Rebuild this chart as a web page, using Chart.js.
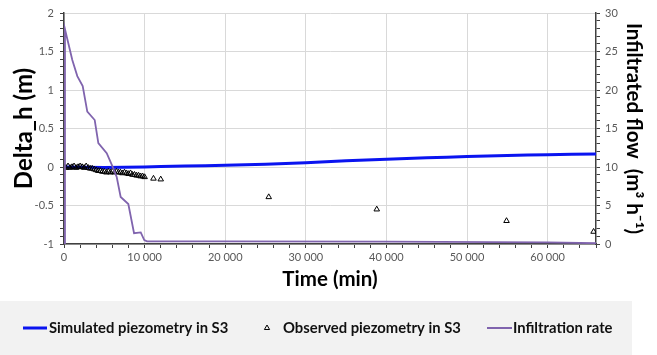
<!DOCTYPE html>
<html>
<head>
<meta charset="utf-8">
<script src="https://cdn.jsdelivr.net/npm/chart.js@4"></script>
<style>
  html, body { margin: 0; padding: 0; background: #ffffff; }
  #wrap { width: 657px; height: 355px; position: relative; }
</style>
</head>
<body>
<div id="wrap"><canvas id="c" width="657" height="355"></canvas></div>
<script>
// ---------- DATA ----------
const simTime  = [0, 5000, 10000, 12000, 15000, 20000, 25000, 30000, 35000, 40000, 45000, 50000, 55000, 60000, 66000];
const simDelta = [0, -0.005, 0, 0.005, 0.012, 0.022, 0.035, 0.055, 0.08, 0.10, 0.12, 0.135, 0.15, 0.16, 0.17];

const obsTime  = [0, 250, 500, 750, 1000, 1250, 1500, 1750, 2000, 2250, 2500, 2750, 3000, 3250, 3500, 3750,
                  4000, 4250, 4500, 4750, 5000, 5250, 5500, 5750, 6000, 6250, 6500, 6750, 7000, 7250, 7500,
                  7750, 8000, 8250, 8500, 8750, 9000, 9250, 9500, 9750, 10000, 11100, 12000, 25400, 38800, 54900, 65700];
const obsDelta = [0.0, -0.01, 0.01, -0.01, 0.0, 0.01, -0.01, 0.0, 0.01, 0.0, -0.01, 0.01, -0.01, -0.02, -0.02, -0.03,
                  -0.04, -0.05, -0.05, -0.06, -0.06, -0.07, -0.06, -0.07, -0.06, -0.07, -0.06, -0.07, -0.07, -0.08, -0.07,
                  -0.08, -0.09, -0.08, -0.10, -0.10, -0.11, -0.11, -0.12, -0.12, -0.13, -0.15, -0.16, -0.39, -0.55, -0.70, -0.84];

const infTime  = [0, 120, 1030, 1650, 2320, 2890, 3810, 4260, 5300, 5920, 6540, 7030, 7980, 8690, 9520, 9960, 10300, 20000, 40000, 60000, 66000];
const infRate  = [0, 27.9, 23.9, 21.8, 20.5, 17.2, 16.1, 13.1, 11.8, 10.3, 8.7, 6.1, 5.2, 1.4, 1.5, 0.5, 0.35, 0.35, 0.3, 0.2, 0.1];

const xTickLabels = ['0', '10\u202F000', '20\u202F000', '30\u202F000', '40\u202F000', '50\u202F000', '60\u202F000'];
const yTickLabels = ['-1', '-0.5', '0', '0.5', '1', '1.5', '2'];
const y2TickLabels = ['0', '5', '10', '15', '20', '25', '30'];

const seriesNames = ['Simulated piezometry in S3', 'Observed piezometry in S3', 'Infiltration rate'];

// ---------- STYLE ----------
const BLUE = '#0a14f0';
const PURPLE = '#8064ae';
const GRID = '#d9d9d9';
const AXIS = '#404040';
const TICKTXT = '#595959';
const FONT = 'Lato, "Open Sans", sans-serif';

const toXY = (xs, ys) => xs.map((x, i) => ({ x: x, y: ys[i] }));

function majorGrid(ctx) { return (ctx.index % 5 === 0) ? GRID : 'rgba(0,0,0,0)'; }

const legendPlugin = {
  id: 'customLegend',
  afterDraw(chart) {
    const ctx = chart.ctx;
    const y = 328;
    ctx.save();
    ctx.fillStyle = '#f2f2f2';
    ctx.fillRect(0, 301, 632, 54);
    ctx.font = 'bold 14.8px ' + FONT;
    ctx.textBaseline = 'middle';
    ctx.textAlign = 'left';
    // item 1
    ctx.strokeStyle = BLUE; ctx.lineWidth = 3;
    ctx.beginPath(); ctx.moveTo(23, y); ctx.lineTo(47, y); ctx.stroke();
    ctx.fillStyle = '#111111';
    ctx.fillText(seriesNames[0], 49, y);
    // item 2
    ctx.strokeStyle = '#000000'; ctx.lineWidth = 1;
    ctx.fillStyle = 'rgba(255,255,255,0)';
    Chart.helpers.drawPoint(ctx, { pointStyle: 'triangle', radius: 3, borderWidth: 1, rotation: 0 }, 267, y);
    ctx.fillStyle = '#111111';
    ctx.fillText(seriesNames[1], 283, y);
    // item 3
    ctx.strokeStyle = PURPLE; ctx.lineWidth = 2;
    ctx.beginPath(); ctx.moveTo(487, y); ctx.lineTo(512, y); ctx.stroke();
    ctx.fillStyle = '#111111';
    ctx.fillText(seriesNames[2], 513, y);
    ctx.restore();
  }
};

new Chart(document.getElementById('c'), {
  type: 'scatter',
  data: {
    datasets: [
      {
        label: seriesNames[0], data: toXY(simTime, simDelta), showLine: true,
        borderColor: BLUE, borderWidth: 3, pointRadius: 0, tension: 0.3, yAxisID: 'y', order: 2
      },
      {
        label: seriesNames[1], data: toXY(obsTime, obsDelta), showLine: false,
        pointStyle: 'triangle', pointRadius: 3.2, borderColor: '#000000', borderWidth: 1,
        backgroundColor: 'rgba(255,255,255,0)', yAxisID: 'y', order: 1
      },
      {
        label: seriesNames[2], data: toXY(infTime, infRate), showLine: true,
        borderColor: PURPLE, borderWidth: 1.8, pointRadius: 0, tension: 0, yAxisID: 'y2', order: 0
      }
    ]
  },
  options: {
    responsive: false,
    animation: false,
    devicePixelRatio: 1,
    layout: { padding: { top: 13, bottom: 55, left: 0, right: 0 } },
    plugins: { legend: { display: false }, tooltip: { enabled: false } },
    scales: {
      x: {
        type: 'linear', min: 0, max: 66000,
        afterBuildTicks: (s) => { const t = []; for (let i = 0; i <= 33; i++) t.push({ value: i * 2000 }); s.ticks = t; },
        afterFit: (s) => { s.height = 56; },
        ticks: {
          autoSkip: false, maxRotation: 0, padding: 3,
          color: TICKTXT, font: { family: FONT, size: 11 },
          callback: (v, i) => (i % 5 === 0 ? xTickLabels[i / 5] : '')
        },
        grid: { color: majorGrid, tickColor: AXIS, tickLength: 4, lineWidth: 1 },
        border: { color: AXIS, width: 1.5 },
        title: {
          display: true, text: 'Time (min)', color: '#000',
          font: { family: FONT, size: 20.5, weight: 'bold' }, padding: { top: 6, bottom: 8 }
        }
      },
      y: {
        type: 'linear', position: 'left', min: -1, max: 2,
        afterBuildTicks: (s) => { const t = []; for (let i = 0; i <= 30; i++) t.push({ value: -1 + i / 10 }); s.ticks = t; },
        afterFit: (s) => { s.width = 64; },
        ticks: {
          autoSkip: false, padding: 6,
          color: TICKTXT, font: { family: FONT, size: 11 },
          callback: (v, i) => (i % 5 === 0 ? yTickLabels[i / 5] : '')
        },
        grid: { color: majorGrid, tickColor: AXIS, tickLength: 4, lineWidth: 1 },
        border: { color: AXIS, width: 1.5 },
        title: {
          display: true, text: 'Delta_h (m)', color: '#000',
          font: { family: FONT, size: 24, weight: 'bold' }, padding: { top: 10, bottom: 0 }
        }
      },
      y2: {
        type: 'linear', position: 'right', min: 0, max: 30,
        afterBuildTicks: (s) => { const t = []; for (let i = 0; i <= 30; i++) t.push({ value: i }); s.ticks = t; },
        afterFit: (s) => { s.width = 61; },
        ticks: {
          autoSkip: false, padding: 5,
          color: TICKTXT, font: { family: FONT, size: 11 },
          callback: (v, i) => (i % 5 === 0 ? y2TickLabels[i / 5] : '')
        },
        grid: { drawOnChartArea: false, tickColor: AXIS, tickLength: 4 },
        border: { color: AXIS, width: 1.5 },
        title: {
          display: true, text: 'Infiltrated flow  (m\u00B3 h\u207B\u00B9)', color: '#000',
          font: { family: FONT, size: 20.5, weight: 'bold' }, padding: { top: 11, bottom: 0 }
        }
      }
    }
  },
  plugins: [legendPlugin]
});
</script>
</body>
</html>
